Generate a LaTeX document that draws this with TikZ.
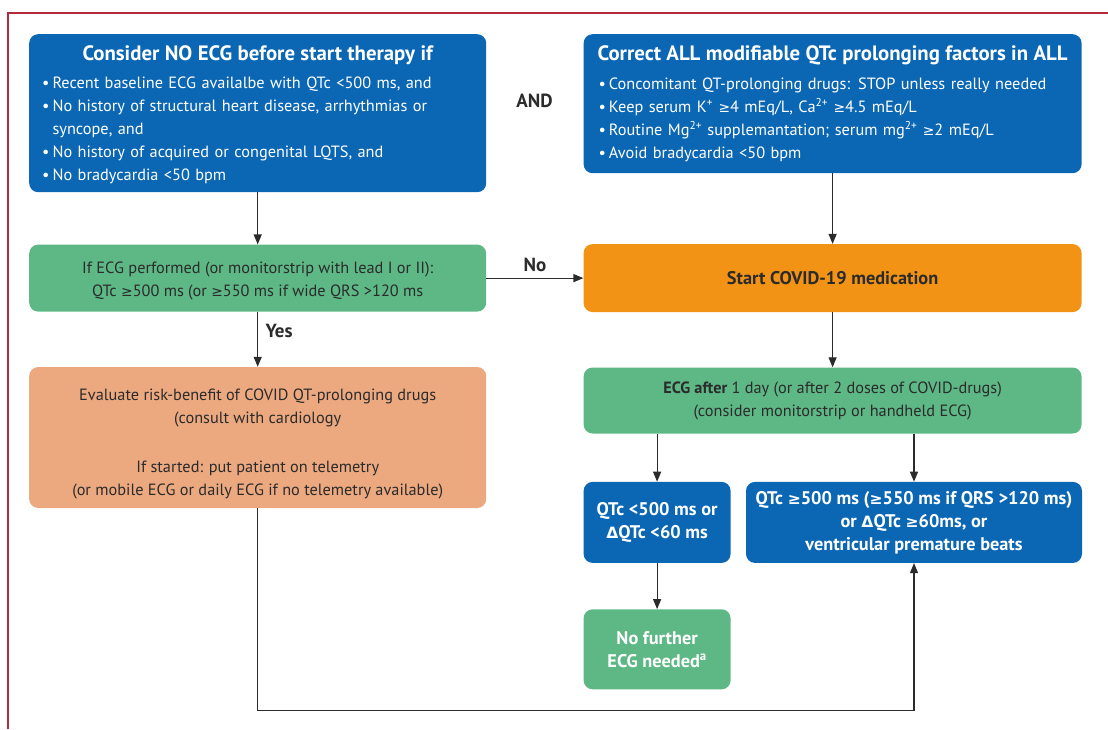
\documentclass[tikz,border=0pt]{standalone}
\usepackage{fontspec}
\setmainfont{PT Sans}
\newfontfamily\symfont{DejaVu Sans}[Scale=0.85]
\usetikzlibrary{positioning,arrows.meta,calc}

\definecolor{ecgblue}{HTML}{0B67B4}
\definecolor{ecggreen}{HTML}{5DB886}
\definecolor{ecgorange}{HTML}{F29315}
\definecolor{ecgpeach}{HTML}{ECA980}
\definecolor{ecgtext}{HTML}{2B2B2B}
\definecolor{ecgframe}{HTML}{B3283C}

\newcommand{\bodyfont}{\fontsize{16.3}{23}\selectfont}
\newcommand{\headfont}{\fontsize{20.8}{23}\selectfont\bfseries}
\newcommand{\boldfont}{\fontsize{18.3}{23}\selectfont\bfseries}
\newcommand{\gq}{{\symfont ≥}}
\newcommand{\dq}{{\symfont Δ}}

\tikzset{
  box/.style={rounded corners=9pt, inner sep=0pt, align=center, font=\bodyfont},
  bluebox/.style={box, fill=ecgblue, text=white},
  greenbox/.style={box, fill=ecggreen, text=ecgtext},
  orangebox/.style={box, fill=ecgorange, text=ecgtext},
  peachbox/.style={box, fill=ecgpeach, text=ecgtext},
  lbl/.style={font=\fontsize{19}{23}\selectfont\bfseries, text=ecgtext},
  flow/.style={draw=ecgtext, line width=1.2pt, -{Triangle[length=10pt,width=8pt]}},
}

\begin{document}
\begin{tikzpicture}[x=1pt,y=1pt]
\useasboundingbox (0,0) rectangle (1108,-729);
\draw[ecgframe, line width=2pt] (8,-729) -- (8,-13) -- (1108,-13);

% Define nodes
\node[bluebox, minimum width=457pt, minimum height=158pt, text width=431pt, align=left, anchor=north west] (nogo) at (29,-34)
  {\makebox[431pt]{\rule{0pt}{21pt}\headfont Consider NO ECG before start therapy if}\\[7pt]
   \begin{tabular}{@{}l@{\hspace{3pt}}l@{}}
   \textbullet & Recent baseline ECG availalbe with QTc <500 ms, and\\
   \textbullet & No history of structural heart disease, arrhythmias or\\
               & syncope, and\\
   \textbullet & No history of acquired or congenital LQTS, and\\
   \textbullet & No bradycardia <50 bpm
   \end{tabular}};
\node[bluebox, minimum width=498pt, minimum height=139pt, text width=468pt, align=left, right=97pt of nogo.north east, anchor=north west] (fix)
  {\makebox[468pt]{\rule{0pt}{19pt}\headfont Correct ALL modifiable QTc prolonging factors in ALL}\\[7pt]
   \begin{tabular}{@{}l@{\hspace{3pt}}l@{}}
   \textbullet & Concomitant QT-prolonging drugs: STOP unless really needed\\
   \textbullet & Keep serum K\textsuperscript{+} \gq4 mEq/L, Ca\textsuperscript{2+} \gq4.5 mEq/L\\
   \textbullet & Routine Mg\textsuperscript{2+} supplemantation; serum mg\textsuperscript{2+} \gq2 mEq/L\\
   \textbullet & Avoid bradycardia <50 bpm
   \end{tabular}};
\node[lbl] (and) at (534.5,-101) {AND};
\node[greenbox, minimum width=457pt, minimum height=67pt, below=52pt of nogo] (ecg)
  {\rule{0pt}{17pt}If ECG performed (or monitorstrip with lead I or II):\\ QTc \gq500 ms (or \gq550 ms if wide QRS >120 ms};
\node[orangebox, font=\boldfont, minimum width=498pt, minimum height=68pt, right=97pt of ecg] (start) {Start COVID-19 medication};
\node[peachbox, minimum width=457pt, minimum height=141pt, below=55pt of ecg] (risk)
  {\rule{0pt}{24pt}Evaluate risk-benefit of COVID QT-prolonging drugs\\ (consult with cardiology\\[26pt]
   If started: put patient on telemetry\\ (or mobile ECG or daily ECG if no telemetry available)};
\node[greenbox, minimum width=498pt, minimum height=66pt, below=55pt of start] (after)
  {\textbf{ECG after} 1 day (or after 2 doses of COVID-drugs)\\ (consider monitorstrip or handheld ECG)};
\node[bluebox, font=\boldfont, minimum width=147pt, minimum height=81pt, below=48pt of after.south west, anchor=north west] (low)
  {QTc <500 ms or\\ \dq QTc <60 ms};
\node[bluebox, font=\boldfont, minimum width=336pt, minimum height=81pt, right=15pt of low] (high)
  {QTc \gq500 ms (\gq550 ms if QRS >120 ms)\\ or \dq QTc \gq60ms, or\\ ventricular premature beats};
\node[greenbox, text=white, font=\boldfont, minimum width=147pt, minimum height=80pt, below=46pt of low] (done)
  {No further\\ ECG needed\textsuperscript{a}};
\coordinate[below=202pt of risk.south] (loop);

% Connect the nodes
\draw[flow] (nogo.south) -- (ecg.north);
\draw[flow] (fix.south) -- (start.north);
\draw[flow] (ecg.east) -- node[lbl, above=2pt] {No} (start.west);
\draw[flow] (ecg.south) -- node[lbl, right=4pt, pos=0.35] {Yes} (risk.north);
\draw[flow] (start.south) -- (after.north);
\draw[flow] (low.north |- after.south) -- (low.north);
\draw[flow] (high.north |- after.south) -- (high.north);
\draw[flow] (low.south) -- (done.north);
\draw[flow] (risk.south) -- (loop) -| (high.south);

\end{tikzpicture}
\end{document}
